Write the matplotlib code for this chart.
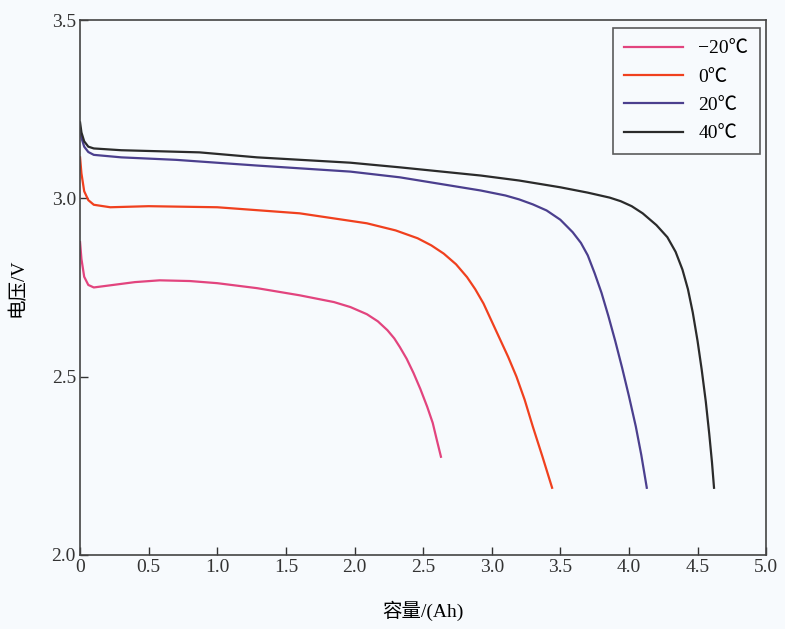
import matplotlib.pyplot as plt

plt.rcParams["font.family"] = ["Liberation Serif", "Noto Sans CJK SC"]
plt.rcParams["axes.unicode_minus"] = True

# 放电曲线数据（容量 Ah, 电压 V）
cap_m20 = [0.0, 0.01, 0.03, 0.06, 0.1, 0.2, 0.4, 0.58, 0.8, 1.0, 1.29, 1.6, 1.85, 1.97, 2.09,
           2.17, 2.24, 2.29, 2.33, 2.38, 2.43, 2.48, 2.53, 2.57, 2.60, 2.63]
vol_m20 = [2.877, 2.83, 2.78, 2.757, 2.75, 2.755, 2.765, 2.77, 2.768, 2.762, 2.748, 2.728, 2.709,
           2.695, 2.675, 2.655, 2.63, 2.607, 2.583, 2.55, 2.51, 2.465, 2.415, 2.37, 2.322, 2.275]

cap_0 = [0.0, 0.01, 0.03, 0.06, 0.1, 0.22, 0.5, 1.0, 1.6, 2.09, 2.3, 2.46, 2.56, 2.65, 2.74,
         2.82, 2.88, 2.94, 3.00, 3.06, 3.12, 3.18, 3.24, 3.30, 3.37, 3.44]
vol_0 = [3.115, 3.07, 3.02, 2.995, 2.982, 2.975, 2.978, 2.975, 2.958, 2.93, 2.91, 2.888, 2.868,
         2.845, 2.815, 2.779, 2.745, 2.705, 2.655, 2.605, 2.555, 2.50, 2.435, 2.359, 2.275, 2.188]

cap_20 = [0.0, 0.01, 0.03, 0.06, 0.1, 0.3, 0.7, 1.29, 1.97, 2.33, 2.92, 3.1, 3.2, 3.3, 3.4,
          3.5, 3.59, 3.65, 3.70, 3.75, 3.80, 3.85, 3.90, 3.95, 4.00, 4.05, 4.09, 4.13]
vol_20 = [3.196, 3.17, 3.145, 3.13, 3.122, 3.115, 3.108, 3.092, 3.075, 3.059, 3.022, 3.008, 2.997,
          2.983, 2.966, 2.94, 2.905, 2.875, 2.84, 2.79, 2.735, 2.67, 2.60, 2.525, 2.445, 2.36,
          2.28, 2.188]

cap_40 = [0.0, 0.01, 0.03, 0.06, 0.1, 0.3, 0.87, 1.29, 1.97, 2.33, 2.92, 3.2, 3.5, 3.7, 3.86,
          3.94, 4.02, 4.10, 4.20, 4.28, 4.34, 4.39, 4.43, 4.465, 4.50, 4.53, 4.56, 4.585, 4.605,
          4.62]
vol_40 = [3.213, 3.185, 3.16, 3.145, 3.14, 3.135, 3.129, 3.115, 3.10, 3.087, 3.064, 3.05, 3.031,
          3.016, 3.002, 2.992, 2.978, 2.958, 2.925, 2.891, 2.85, 2.80, 2.745, 2.68, 2.60, 2.52,
          2.43, 2.34, 2.26, 2.188]

labels = ["\u221220\u2103", "0\u2103", "20\u2103", "40\u2103"]
colors = ["#e2447e", "#f0401e", "#4b3f8e", "#2b2b2b"]

fig = plt.figure(figsize=(7.85, 6.29), dpi=100, facecolor="#f7fafd")
ax = fig.add_axes([0.102, 0.118, 0.874, 0.85])
ax.set_facecolor("#f7fafd")

for x, y, lab, c in zip([cap_m20, cap_0, cap_20, cap_40],
                        [vol_m20, vol_0, vol_20, vol_40], labels, colors):
    ax.plot(x, y, color=c, linewidth=1.6, label=lab, solid_joinstyle="round")

ax.set_xlim(0, 5.0)
ax.set_ylim(2.0, 3.5)
ax.set_xticks([0, 0.5, 1.0, 1.5, 2.0, 2.5, 3.0, 3.5, 4.0, 4.5, 5.0])
ax.set_xticklabels(["0", "0.5", "1.0", "1.5", "2.0", "2.5", "3.0", "3.5", "4.0", "4.5", "5.0"])
ax.set_yticks([2.0, 2.5, 3.0, 3.5])
ax.set_yticklabels(["2.0", "2.5", "3.0", "3.5"])
ax.tick_params(direction="in", length=6, width=1, labelsize=14, colors="#333333", pad=3)

for s in ax.spines.values():
    s.set_color("#444444")
    s.set_linewidth(1.2)

ax.set_xlabel("容量/(Ah)", fontsize=14, labelpad=18)
ax.set_ylabel("电压/V", fontsize=14, labelpad=18)

leg = ax.legend(loc="upper right", fontsize=14, frameon=True, fancybox=False,
                edgecolor="#333333", handlelength=3.0, borderpad=0.6,
                labelspacing=0.55, borderaxespad=0, bbox_to_anchor=(0.991, 0.985))
leg.get_frame().set_linewidth(1.2)
leg.get_frame().set_facecolor("#f7fafd")

plt.savefig("out.png", dpi=100, facecolor=fig.get_facecolor())
